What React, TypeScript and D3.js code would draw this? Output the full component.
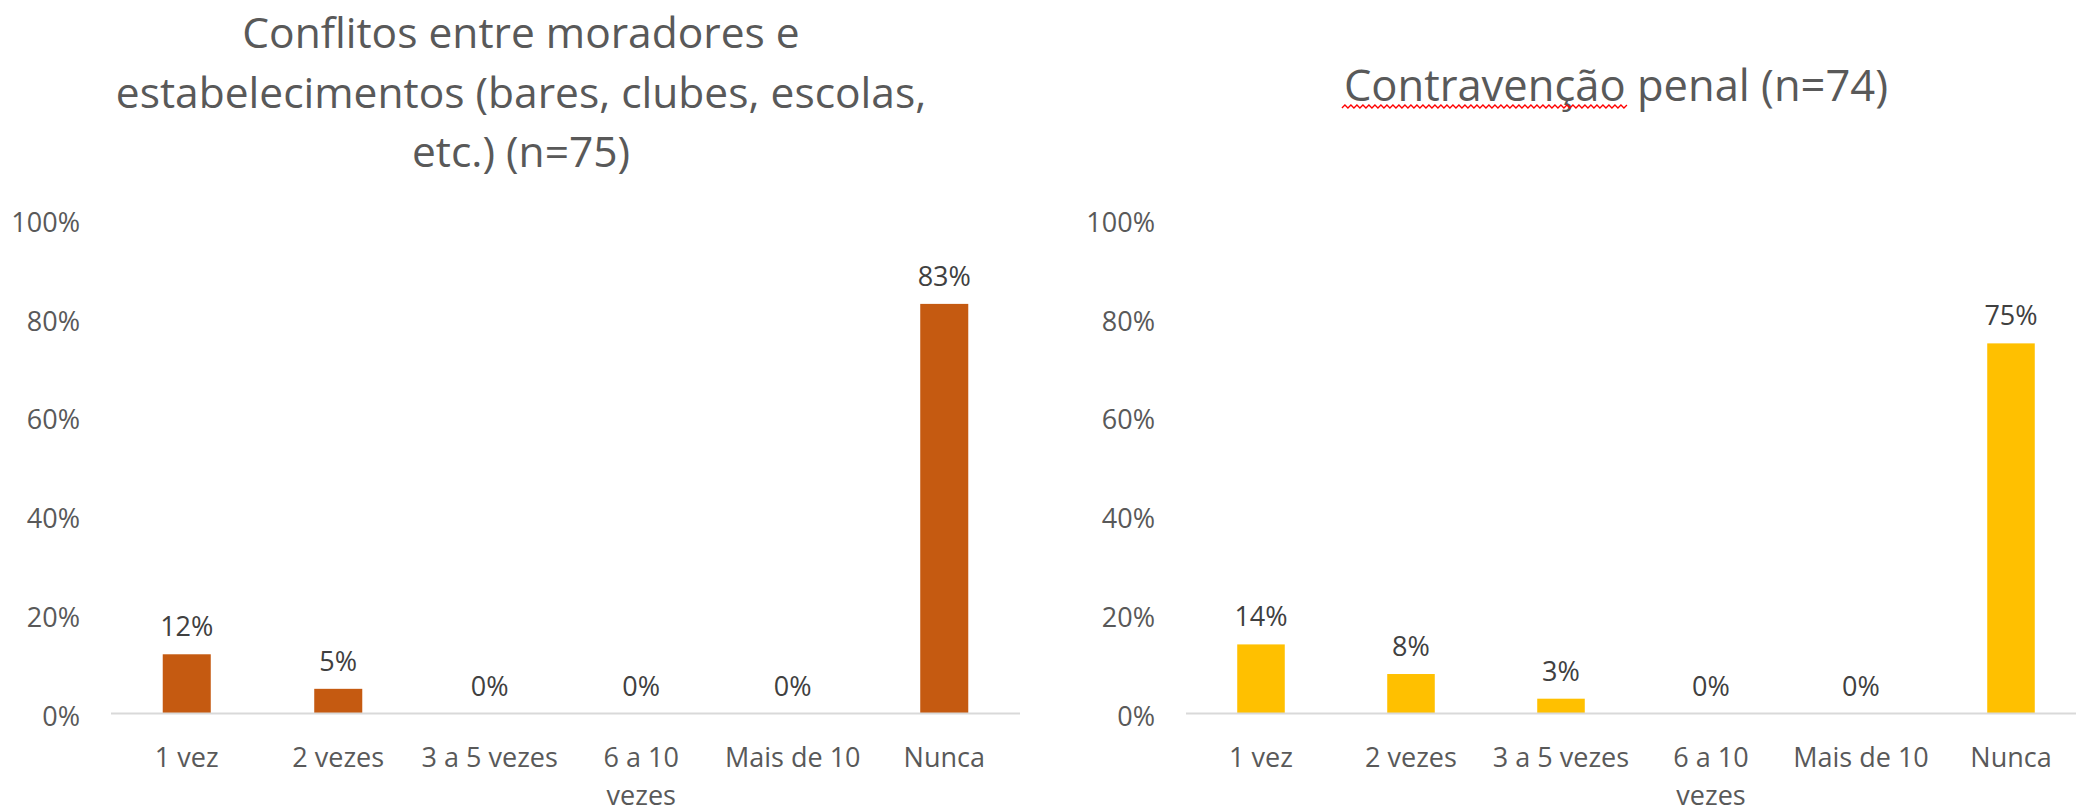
import React, { useEffect, useRef } from "react";
import * as d3 from "d3";

const categories = ["1 vez", "2 vezes", "3 a 5 vezes", "6 a 10 vezes", "Mais de 10", "Nunca"];
const conflitosValues = [0.12, 0.05, 0, 0, 0, 0.83];
const contravencaoValues = [0.14, 0.08, 0.03, 0, 0, 0.75];
const yTicks = [0, 0.2, 0.4, 0.6, 0.8, 1.0];
const conflitosTitle = ["Conflitos entre moradores e", "estabelecimentos (bares, clubes, escolas,", "etc.) (n=75)"];
const contravencaoTitle = ["Contravenção penal (n=74)"];
const misspelledWord = "Contravenção";

const W = 2076;
const H = 807;
const FONT = "'Open Sans', 'DejaVu Sans', sans-serif";

type ChartCfg = {
  values: number[];
  title: string[];
  color: string;
  x0: number;
  x1: number;
  labelRight: number;
  titleCenter: number;
  titleBase: number;
  titleSize: number;
  squiggle: boolean;
};

const charts: ChartCfg[] = [
  { values: conflitosValues, title: conflitosTitle, color: "#C55A11", x0: 111, x1: 1020, labelRight: 80, titleCenter: 521, titleBase: 48, titleSize: 42.5, squiggle: false },
  { values: contravencaoValues, title: contravencaoTitle, color: "#FFC000", x0: 1186, x1: 2086, labelRight: 1155, titleCenter: 1616, titleBase: 101, titleSize: 43.5, squiggle: true },
];

export default function App() {
  const ref = useRef<SVGSVGElement>(null);

  useEffect(() => {
    const svg = d3.select(ref.current);
    svg.selectAll("*").remove();
    const fmt = d3.format(".0%");
    const y = d3.scaleLinear().domain([0, 1]).range([713.5, 220]);

    charts.forEach((c) => {
      const g = svg.append("g");
      const x = d3.scaleBand<string>().domain(categories).range([c.x0, c.x1]).paddingInner(0.683).paddingOuter(0.3415);
      const step = x.step();

      // title
      const t = g.append("text")
        .attr("text-anchor", "middle")
        .attr("font-family", FONT)
        .attr("font-size", c.titleSize)
        .attr("fill", "#595959");
      c.title.forEach((line, i) => {
        t.append("tspan").attr("x", c.titleCenter).attr("y", c.titleBase + i * 59.5).text(line);
      });

      if (c.squiggle) {
        const node = t.node() as SVGTextElement;
        const full = node.getComputedTextLength();
        const tmp = g.append("text").attr("font-family", FONT).attr("font-size", c.titleSize).text(misspelledWord);
        const wlen = (tmp.node() as SVGTextElement).getComputedTextLength();
        tmp.remove();
        const sx = c.titleCenter - full / 2 - 2;
        const ex = sx + wlen + 4;
        const sy = c.titleBase + 5.5;
        const pts: [number, number][] = [];
        let k = 0;
        for (let px = sx; px <= ex; px += 3) {
          pts.push([px, sy + (k % 2 === 0 ? 1.5 : -1.5)]);
          k++;
        }
        g.append("path")
          .attr("d", d3.line()(pts) as string)
          .attr("fill", "none")
          .attr("stroke", "#FF0000")
          .attr("stroke-width", 1.3);
      }

      // y tick labels
      g.selectAll(".ytick")
        .data(yTicks)
        .join("text")
        .attr("x", c.labelRight)
        .attr("y", (d) => y(d) + 12)
        .attr("text-anchor", "end")
        .attr("font-family", FONT)
        .attr("font-size", 27)
        .attr("fill", "#595959")
        .text((d) => fmt(d));

      // bars
      g.selectAll(".bar")
        .data(c.values)
        .join("rect")
        .attr("x", (_d, i) => x(categories[i]) as number)
        .attr("y", (d) => y(d))
        .attr("width", x.bandwidth())
        .attr("height", (d) => y(0) - y(d))
        .attr("fill", c.color);

      // baseline
      g.append("line")
        .attr("x1", c.x0)
        .attr("x2", c.x1)
        .attr("y1", y(0))
        .attr("y2", y(0))
        .attr("stroke", "#D9D9D9")
        .attr("stroke-width", 2);

      // data labels
      g.selectAll(".dl")
        .data(c.values)
        .join("text")
        .attr("x", (_d, i) => (x(categories[i]) as number) + x.bandwidth() / 2)
        .attr("y", (d) => y(d) - 18)
        .attr("text-anchor", "middle")
        .attr("font-family", FONT)
        .attr("font-size", 27)
        .attr("fill", "#404040")
        .text((d) => fmt(d));

      // x labels with wrapping
      categories.forEach((cat, i) => {
        const cx = (x(cat) as number) + x.bandwidth() / 2;
        const txt = g.append("text")
          .attr("text-anchor", "middle")
          .attr("font-family", FONT)
          .attr("font-size", 27)
          .attr("fill", "#595959");
        const words = cat.split(" ");
        let line: string[] = [];
        let ln = 0;
        let ts = txt.append("tspan").attr("x", cx).attr("y", y(0) + 53.5);
        words.forEach((w) => {
          line.push(w);
          ts.text(line.join(" "));
          if ((ts.node() as SVGTSpanElement).getComputedTextLength() > step && line.length > 1) {
            line.pop();
            ts.text(line.join(" "));
            line = [w];
            ln++;
            ts = txt.append("tspan").attr("x", cx).attr("y", y(0) + 53.5 + ln * 38).text(w);
          }
        });
      });
    });
  }, []);

  return (
    <svg
      ref={ref}
      width={W}
      height={H}
      style={{ position: "absolute", left: 0, top: 0, background: "#fff" }}
    />
  );
}
